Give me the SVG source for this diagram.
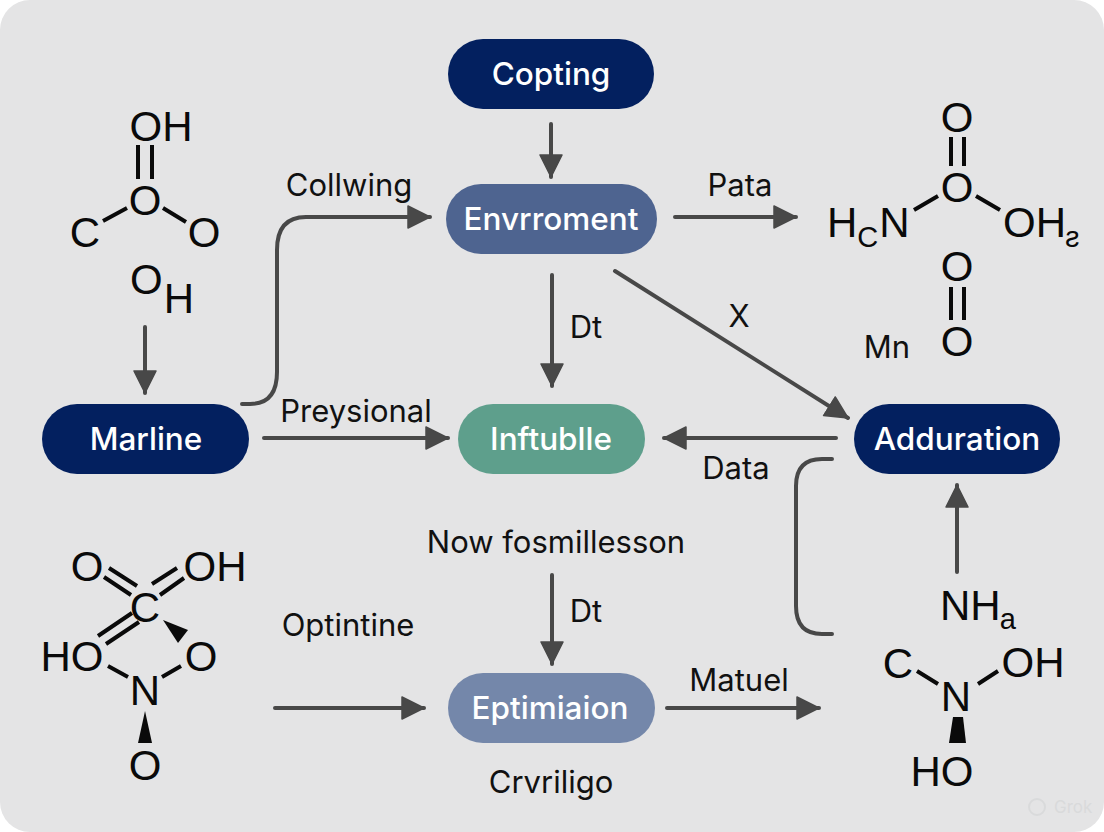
<svg xmlns="http://www.w3.org/2000/svg" width="1104" height="832" viewBox="0 0 1104 832">
<style>
.lb{font-family:"Inter","Roboto",sans-serif;font-size:31px;fill:#111;text-anchor:middle}
.nt{font-family:"Inter","Roboto",sans-serif;font-size:31.5px;fill:#fff;text-anchor:middle;font-weight:500}
.at{font-family:"Liberation Sans",Arial,sans-serif;font-size:42px;fill:#0a0a0a;text-anchor:middle}
.st{font-family:"Liberation Sans",Arial,sans-serif;font-size:42px;fill:#0a0a0a;text-anchor:start}
.s{font-size:29px}
.bd{stroke:#0a0a0a;stroke-width:4;fill:none;stroke-linecap:butt}
.cn{stroke:#484848;stroke-width:4;fill:none;stroke-linecap:round}
</style>
<defs>
<marker id="ah" markerUnits="userSpaceOnUse" markerWidth="26" markerHeight="26" refX="23" refY="12" orient="auto">
<path d="M1 1 L23 12 L1 23 Z" fill="#484848" stroke="#484848" stroke-width="1.5" stroke-linejoin="round"/>
</marker>
</defs>
<rect width="1104" height="832" fill="#fff"/>
<rect width="1104" height="832" rx="30" fill="#e4e4e5"/>

<g id="connectors">
<path class="cn" marker-end="url(#ah)" d="M551 124V177"/>
<path class="cn" marker-end="url(#ah)" d="M145 327V393"/>
<path class="cn" marker-end="url(#ah)" d="M242 404H250Q277 404 277 372V250Q277 217 306 217H430"/>
<path class="cn" marker-end="url(#ah)" d="M675 217H796"/>
<path class="cn" marker-end="url(#ah)" d="M552 275V386"/>
<path class="cn" marker-end="url(#ah)" d="M615 271L848 418"/>
<path class="cn" marker-end="url(#ah)" d="M264 438H448"/>
<path class="cn" marker-end="url(#ah)" d="M836 438H664"/>
<path class="cn" d="M832 459H822Q796 459 796 486V606Q796 634 822 634H832"/>
<path class="cn" marker-end="url(#ah)" d="M957 572V485"/>
<path class="cn" marker-end="url(#ah)" d="M552 575V664"/>
<path class="cn" marker-end="url(#ah)" d="M275 708H424"/>
<path class="cn" marker-end="url(#ah)" d="M667 708H819"/>
</g>

<g id="n-copting"><rect x="448" y="39" width="206" height="70" rx="35" fill="#03205f"/><text class="nt" x="551" y="85">Copting</text></g>
<g id="n-environment"><rect x="446" y="184" width="211" height="70" rx="35" fill="#4e6490"/><text class="nt" x="551" y="230">Envrroment</text></g>
<g id="n-marline"><rect x="42" y="404" width="207" height="70" rx="35" fill="#03205f"/><text class="nt" x="146" y="450">Marline</text></g>
<g id="n-inftubile"><rect x="458" y="404" width="187" height="70" rx="35" fill="#5e9f8c"/><text class="nt" x="551" y="450">Inftublle</text></g>
<g id="n-adduration"><rect x="854" y="404" width="206" height="70" rx="35" fill="#03205f"/><text class="nt" x="957" y="450">Adduration</text></g>
<g id="n-eptimiaion"><rect x="448" y="673" width="207" height="70" rx="35" fill="#7487aa"/><text class="nt" x="550" y="719">Eptimiaion</text></g>

<g id="labels">
<text class="lb" x="349" y="196">Collwing</text>
<text class="lb" x="740" y="196">Pata</text>
<text class="lb" x="586" y="338">Dt</text>
<text class="lb" x="739" y="327">X</text>
<text class="lb" x="887" y="358">Mn</text>
<text class="lb" x="356" y="422">Preysional</text>
<text class="lb" x="736" y="479">Data</text>
<text class="lb" x="556" y="553">Now fosmillesson</text>
<text class="lb" x="586" y="622">Dt</text>
<text class="lb" x="348" y="636">Optintine</text>
<text class="lb" x="739" y="691">Matuel</text>
<text class="lb" x="551" y="793">Crvriligo</text>
</g>

<g id="mol-top-left">
<text class="at" x="161" y="141">OH</text>
<path class="bd" d="M138 145V179M152 145V179"/>
<text class="at" x="145" y="215">O</text>
<path class="bd" d="M103 221L127 208M163 208L186 222"/>
<text class="at" x="85" y="247">C</text>
<text class="at" x="204" y="247">O</text>
<text class="st" x="130" y="294">O<tspan dy="19" dx="1">H</tspan></text>
</g>

<g id="mol-top-right">
<text class="at" x="957" y="132">O</text>
<path class="bd" d="M951 137V166M964 137V166"/>
<text class="at" x="957" y="202">O</text>
<path class="bd" d="M914 210L938 196M976 196L1000 210"/>
<text class="st" x="827" y="237">H<tspan class="s" dy="10" dx="0">C</tspan><tspan dy="-10" dx="1">N</tspan></text>
<text class="st" x="1003" y="237">OH<tspan class="s" dy="10" dx="-1">ƨ</tspan></text>
<text class="at" x="957" y="281">O</text>
<path class="bd" d="M951 287V320M964 287V320"/>
<text class="at" x="957" y="356">O</text>
</g>

<g id="mol-bottom-left">
<text class="at" x="87" y="581">O</text>
<text class="at" x="215" y="581">OH</text>
<path class="bd" d="M109 568L137 586M104 577L131 595M177 568L152 584M184 578L160 595"/>
<text class="at" x="145" y="622">C</text>
<path class="bd" d="M132 613L98 636M139 622L106 644"/>
<text class="at" x="72" y="671">HO</text>
<text class="at" x="201" y="671">O</text>
<path d="M163 620L188 630L178 643Z" fill="#0a0a0a"/>
<path class="bd" d="M108 666L128 677M162 677L181 666"/>
<text class="at" x="145" y="705">N</text>
<path d="M145 711L138 743H152Z" fill="#0a0a0a"/>
<text class="at" x="145" y="780">O</text>
</g>

<g id="mol-bottom-right">
<text class="st" x="940" y="620">NH<tspan class="s" dy="9" dx="-1">a</tspan></text>
<text class="at" x="898" y="678">C</text>
<text class="at" x="1033" y="677">OH</text>
<path class="bd" d="M917 671L938 684M978 684L998 671"/>
<text class="at" x="956" y="711">N</text>
<path d="M953 717H963L966 743H949Z" fill="#0a0a0a"/>
<text class="at" x="942" y="786">HO</text>
</g>

<g id="watermark"><circle cx="1037" cy="807" r="8" fill="none" stroke="#d9dadb" stroke-width="2"/><text x="1054" y="813" font-family="Inter,sans-serif" font-size="17" fill="#d9dadb">Grok</text></g>
</svg>
